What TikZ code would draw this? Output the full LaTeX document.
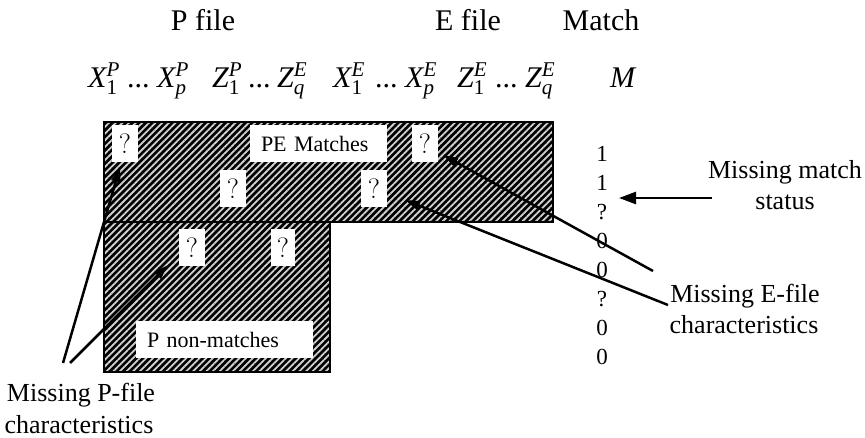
\documentclass[tikz,border=0pt]{standalone}
\usepackage{amsmath}
\usepackage{fontspec}
\setmainfont{Liberation Serif}
\newfontfamily\lmfont{Latin Modern Roman}
\usetikzlibrary{arrows.meta,patterns.meta}

\newcommand{\fsz}[1]{\fontsize{#1}{#1}\selectfont}
% variable with superscript (file) and subscript (index)
\newcommand{\vr}[3]{$\textit{#1}_{\textit{#3}}^{\textit{#2}}$}
\newcommand{\vn}[3]{$\textit{#1}_{\textup{#3}}^{\textit{#2}}$}

\begin{document}
\begin{tikzpicture}[x=1pt,y=-1pt,
  ttl/.style={anchor=base,inner sep=0pt,font=\fsz{30}},
  mth/.style={anchor=base west,inner sep=0pt,font=\fsz{30}},
  lbl/.style={anchor=base,inner sep=0pt,font=\fsz{26}},
  mval/.style={anchor=base,inner sep=0pt,font=\fsz{23}},
  qbox/.style={fill=white,inner sep=0pt,minimum width=26pt,minimum height=37pt,font=\lmfont\fsz{28}},
  lbox/.style={fill=white,inner xsep=11pt,inner ysep=0pt,minimum height=37pt,align=left,font=\fsz{22}},
  arr/.style={line width=2.5pt,-{Triangle[length=17pt,width=12pt]}},
  arrs/.style={line width=2.5pt,-{Triangle[length=15pt,width=9pt]}},
  hatch/.style={pattern={Lines[angle=45,distance=4.7pt,line width=1.8pt]},pattern color=black!18}
]
\useasboundingbox (0,0) rectangle (865,438);

% column headings
\node[ttl] (hp) at (203,31) {P file};
\node[ttl] (he) at (468,31) {E file};
\node[ttl] (hm) at (601,31) {Match};

% variable row
\node[mth] (v1)  at (88,88)  {\vn{X}{P}{1}};
\node[mth] (d1)  at (127,88) {...};
\node[mth] (v2)  at (157,88) {\vr{X}{P}{p}};
\node[mth] (v3)  at (212,88) {\vn{Z}{P}{1}};
\node[mth] (d2)  at (248,88) {...};
\node[mth] (v4)  at (277,88) {\vr{Z}{E}{q}};
\node[mth] (v5)  at (333,88) {\vn{X}{E}{1}};
\node[mth] (d3)  at (375,88) {...};
\node[mth] (v6)  at (405,88) {\vr{X}{E}{p}};
\node[mth] (v7)  at (457,88) {\vn{Z}{E}{1}};
\node[mth] (d4)  at (495,88) {...};
\node[mth] (v8)  at (525,88) {\vr{Z}{E}{q}};
\node[mth] (vm)  at (610,88) {\textit{M}};

% data blocks: matched records on top, P non-matches below
\fill[black] (104,122) -- (553,122) -- (553,222) -- (330,222) -- (330,372) -- (104,372) -- cycle;
\fill[hatch] (104,122) -- (553,122) -- (553,222) -- (330,222) -- (330,372) -- (104,372) -- cycle;
\draw[line width=1.2pt] (104,122) -- (553,122) -- (553,222) -- (330,222) -- (330,372) -- (104,372) -- cycle;
\draw[line width=1.2pt] (104,222) -- (330,222);

% missing values and block labels
\node[qbox] (q1) at (125,143.5) {?};
\node[qbox] (q2) at (425,143.5) {?};
\node[qbox] (q3) at (233,189) {?};
\node[qbox] (q4) at (374,189) {?};
\node[qbox] (q5) at (192,247.5) {?};
\node[qbox,minimum width=24pt] (q6) at (283,247.5) {?};
\node[lbox,text width=115pt] (pe) at (318.5,143.5) {PE Matches};
\node[lbox,text width=155pt] (pn) at (224.5,339.5) {P non-matches};

% match indicator column
\foreach \v [count=\i] in {1,1,?,0,0,?,0,0}
  \node[mval] (m\i) at (602,{162+29*(\i-1)}) {\v};

% annotations
\node[lbl] (lm1) at (785,179) {Missing match};
\node[lbl] (lm2) at (785,210) {status};
\node[lbl] (le1) at (745,303) {Missing E-file};
\node[lbl] (le2) at (744,334) {characteristics};
\node[lbl] (lp1) at (81,401) {Missing P-file};
\node[lbl] (lp2) at (79,433) {characteristics};

% arrow end points
\coordinate (ms0) at (712,198);
\coordinate (ms1) at (619,198);
\coordinate (e10) at (653,271);
\coordinate (e11) at (443,155);
\coordinate (e20) at (668,305);
\coordinate (e21) at (405,200);
\coordinate (p10) at (63,363);
\coordinate (p11) at (120,167);
\coordinate (p20) at (70,363);
\coordinate (p21) at (168,265);

\draw[arr] (ms0) -- (ms1);
\draw[arrs] (e10) -- (e11);
\draw[arrs] (e20) -- (e21);
\draw[arrs] (p10) -- (p11);
\draw[arrs] (p20) -- (p21);
\end{tikzpicture}
\end{document}
